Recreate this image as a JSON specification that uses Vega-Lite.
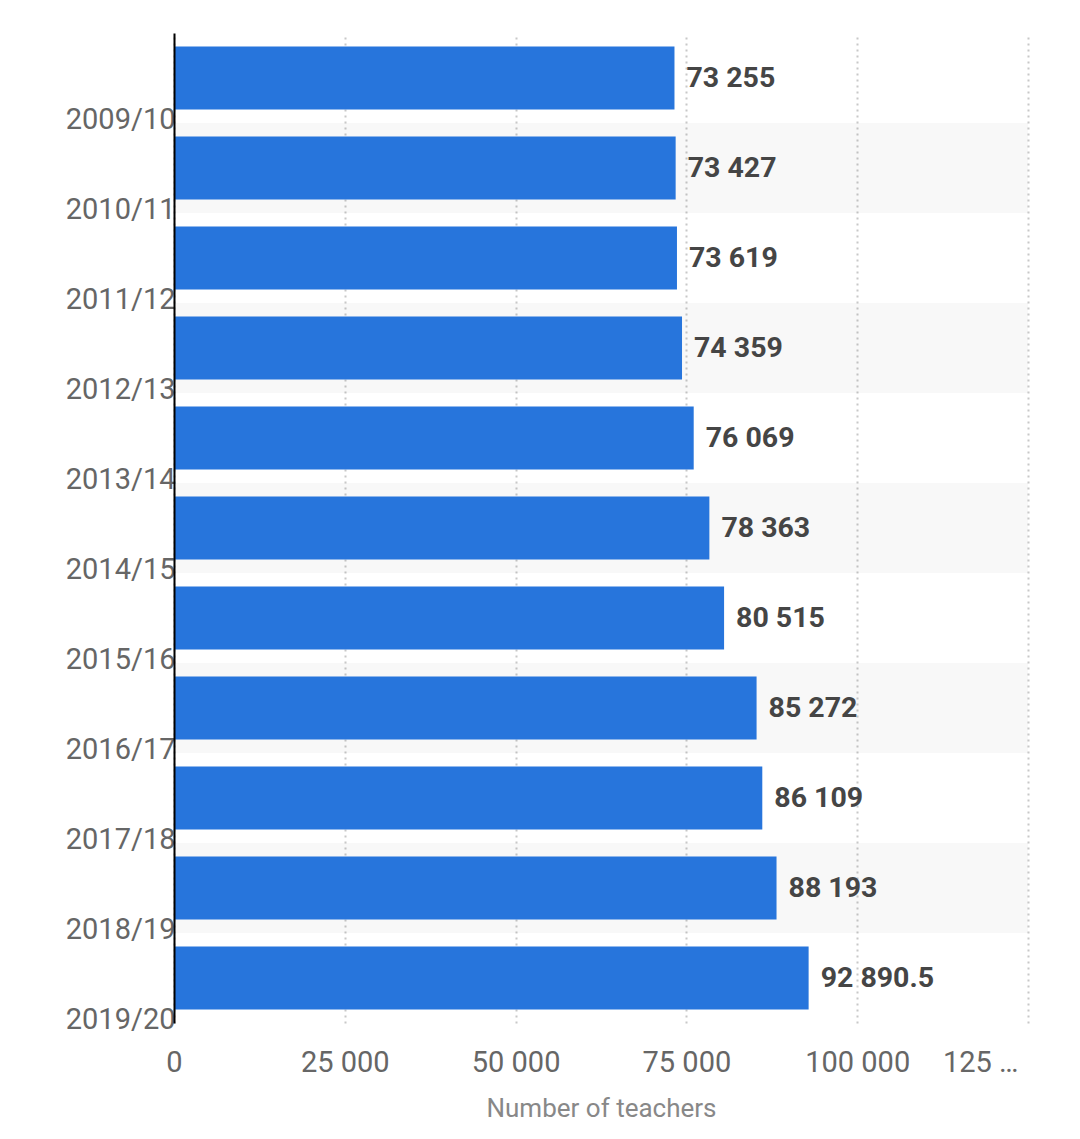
{
  "$schema": "https://vega.github.io/schema/vega-lite/v6.json",
  "autosize": {"type": "none"},
  "padding": {"left": 174, "top": 33, "right": 52, "bottom": 116},
  "width": 854,
  "height": 990,
  "background": "white",
  "config": {
    "view": {"stroke": null},
    "font": "Roboto",
    "locale": {"number": {"decimal": ".", "thousands": " ", "grouping": [3], "currency": ["", ""]}}
  },
  "data": {
    "values": [
      {"year": "2009/10", "teachers": 73255},
      {"year": "2010/11", "teachers": 73427},
      {"year": "2011/12", "teachers": 73619},
      {"year": "2012/13", "teachers": 74359},
      {"year": "2013/14", "teachers": 76069},
      {"year": "2014/15", "teachers": 78363},
      {"year": "2015/16", "teachers": 80515},
      {"year": "2016/17", "teachers": 85272},
      {"year": "2017/18", "teachers": 86109},
      {"year": "2018/19", "teachers": 88193},
      {"year": "2019/20", "teachers": 92890.5}
    ]
  },
  "encoding": {
    "y": {
      "field": "year",
      "type": "nominal",
      "sort": ["2009/10", "2010/11", "2011/12", "2012/13", "2013/14", "2014/15", "2015/16", "2016/17", "2017/18", "2018/19", "2019/20"],
      "scale": {"paddingInner": 0, "paddingOuter": 0},
      "axis": {
        "title": null,
        "domain": true,
        "domainColor": "#000000",
        "domainWidth": 2,
        "ticks": false,
        "tickSize": 0,
        "grid": false,
        "labelPadding": -1,
        "labelAlign": "right",
        "labelBaseline": "middle",
        "labelOffset": 42,
        "labelFont": "Roboto",
        "labelFontSize": 29,
        "labelColor": "#666666",
        "zindex": 2
      }
    }
  },
  "layer": [
    {
      "transform": [
        {"window": [{"op": "row_number", "as": "rn"}], "sort": [{"field": "year", "order": "ascending"}]},
        {"filter": "datum.rn % 2 == 0"}
      ],
      "mark": {"type": "rect", "color": "#000000", "opacity": 0.028},
      "encoding": {
        "x": {"datum": 0, "type": "quantitative"},
        "x2": {"datum": 125000}
      }
    },
    {
      "mark": {"type": "bar", "color": "#2775dc", "height": {"band": 0.7}},
      "encoding": {
        "x": {
          "field": "teachers",
          "type": "quantitative",
          "scale": {"domain": [0, 125000], "nice": false},
          "axis": {
            "title": "Number of teachers",
            "titleFont": "Roboto",
            "titleFontSize": 26,
            "titleFontWeight": "normal",
            "titleColor": "#888888",
            "titlePadding": 18,
            "values": [0, 25000, 50000, 75000, 100000, 125000],
            "format": ",d",
            "labelExpr": "datum.value == 125000 ? '125 …' : datum.label",
            "labelAlign": {"condition": {"test": "datum.value == 125000", "value": "right"}, "value": "center"},
            "labelOffset": {"condition": {"test": "datum.value == 125000", "value": -10}, "value": 0},
            "labelFont": "Roboto",
            "labelFontSize": 29,
            "labelColor": "#666666",
            "labelPadding": 25,
            "domain": false,
            "ticks": false,
            "tickSize": 0,
            "grid": true,
            "gridColor": "#c8c8c8",
            "gridWidth": 2,
            "gridDash": [2, 4]
          }
        }
      }
    },
    {
      "mark": {"type": "text", "align": "left", "baseline": "middle", "dx": 12, "fontSize": 28.5, "fontWeight": "bold", "font": "Roboto", "color": "#454545"},
      "encoding": {
        "x": {"field": "teachers", "type": "quantitative"},
        "text": {"field": "teachers", "type": "quantitative", "format": ",.1~f"}
      }
    }
  ]
}
